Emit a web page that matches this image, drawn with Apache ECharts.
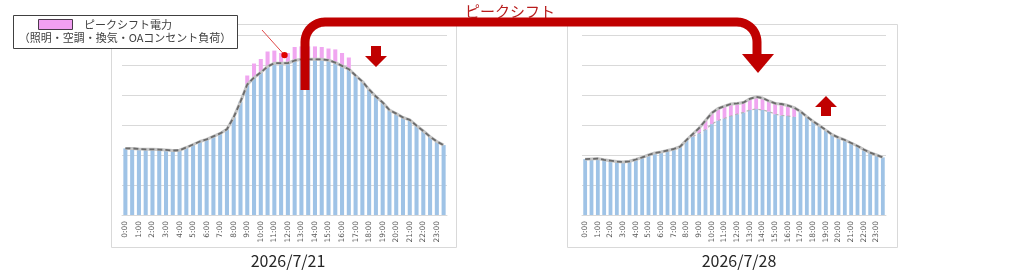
<!DOCTYPE html>
<html>
<head>
<meta charset="utf-8">
<script src="https://cdn.jsdelivr.net/npm/echarts@6/dist/echarts.min.js"></script>
<style>
  html, body { margin: 0; padding: 0; background: #fff; }
  #chart { width: 1024px; height: 278px; }
</style>
</head>
<body>
<div id="chart"></div>
<script>
// 30分ごとの時刻（ラベルは毎時のみ表示）
const slots = [
  '0:00','0:30','1:00','1:30','2:00','2:30','3:00','3:30','4:00','4:30','5:00','5:30',
  '6:00','6:30','7:00','7:30','8:00','8:30','9:00','9:30','10:00','10:30','11:00','11:30',
  '12:00','12:30','13:00','13:30','14:00','14:30','15:00','15:30','16:00','16:30','17:00','17:30',
  '18:00','18:30','19:00','19:30','20:00','20:30','21:00','21:30','22:00','22:30','23:00','23:30'
];

// 2026/7/21 シフト後の負荷（青）とシフト前のピーク（ピンク上端）
const leftBase = [222,222,220,219,219,218,217,215,216,225,235,245,252,262,272,286,326,378,
  435,458,475,495,506,506,506,515,519,519,519,519,516,508,497,486,
  465,445,418,395,375,350,338,325,317,298,280,261,245,233];
const leftPeak = [null,null,null,null,null,null,null,null,null,null,null,null,null,null,null,null,null,null,
  465,505,520,545,548,540,540,560,562,562,562,560,555,552,540,525,
  null,null,null,null,null,null,null,null,null,null,null,null,null,null];

// 2026/7/28 元の負荷（青）とシフト後の合計（線）
const rightBase = [186,187,188,184,181,178,177,179,185,192,200,207,210,215,220,228,250,
  262,272,285,303,315,322,330,336,342,350,353,350,345,336,332,330,327,
  345,328,312,298,283,268,258,250,240,230,218,208,200,192];
const rightTotal = [186,187,188,184,181,178,177,179,185,192,200,207,210,215,220,228,250,
  270,290,315,340,355,363,370,372,375,387,394,390,380,372,370,365,358,
  345,328,312,298,283,268,258,250,240,230,218,208,200,192];

const dates = ['2026/7/21', '2026/7/28'];
const legendTitle = 'ピークシフト電力';
const legendSub = '（照明・空調・換気・OAコンセント負荷）';
const arrowTitle = 'ピークシフト';

const BLUE = '#9fc3e6';
const PINK = '#f0a6f0';
const RED = '#c00000';
const FONT = '"Noto Sans CJK JP", "Noto Sans", sans-serif';

const leftShift = leftPeak.map((v, i) => v == null ? '-' : v - leftBase[i]);
const rightShift = rightTotal.map((v, i) => v - rightBase[i] > 0 ? v - rightBase[i] : '-');
const rightOld = rightBase.map((v, i) => rightTotal[i] - v > 0 ? v : '-');

const chart = echarts.init(document.getElementById('chart'));

const xAxisBase = (gi) => ({
  type: 'category',
  gridIndex: gi,
  data: slots,
  axisTick: { show: false },
  axisLine: { lineStyle: { color: '#d9d9d9' } },
  axisLabel: {
    interval: 1,
    rotate: 90,
    margin: 6,
    fontSize: 7.5,
    color: '#595959',
    fontFamily: 'DejaVu Sans'
  }
});
const yAxisBase = (gi) => ({
  type: 'value',
  gridIndex: gi,
  min: 0,
  max: 600,
  interval: 100,
  axisLabel: { show: false },
  axisLine: { show: false },
  axisTick: { show: false },
  splitLine: { lineStyle: { color: '#d9d9d9', width: 1 } }
});

const lineLayers = (gi, data) => ([
  {
    type: 'line', xAxisIndex: gi, yAxisIndex: gi, data: data, symbol: 'none', z: 5,
    lineStyle: { color: '#c4c4c4', width: 3 }
  },
  {
    type: 'line', xAxisIndex: gi, yAxisIndex: gi, data: data, symbol: 'none', z: 6,
    lineStyle: { color: '#6b6b6b', width: 1.8, type: [5, 3] }
  }
]);

chart.setOption({
  animation: false,
  grid: [
    { left: 122, right: 577, top: 35, bottom: 63 },
    { left: 582, right: 138, top: 35, bottom: 63 }
  ],
  xAxis: [xAxisBase(0), xAxisBase(1)],
  yAxis: [yAxisBase(0), yAxisBase(1)],
  series: [
    {
      type: 'bar', xAxisIndex: 0, yAxisIndex: 0, stack: 'L', data: leftBase,
      barCategoryGap: '40%', itemStyle: { color: BLUE }
    },
    {
      type: 'bar', xAxisIndex: 0, yAxisIndex: 0, stack: 'L', data: leftShift,
      itemStyle: { color: PINK }
    },
    ...lineLayers(0, leftBase),
    {
      type: 'bar', xAxisIndex: 1, yAxisIndex: 1, stack: 'R', data: rightBase,
      barCategoryGap: '40%', itemStyle: { color: BLUE }
    },
    {
      type: 'bar', xAxisIndex: 1, yAxisIndex: 1, stack: 'R', data: rightShift,
      itemStyle: { color: PINK }
    },
    {
      type: 'line', xAxisIndex: 1, yAxisIndex: 1, data: rightOld, symbol: 'none', z: 4,
      lineStyle: { color: '#b5b5b5', width: 1.2, type: [3, 3] }
    },
    ...lineLayers(1, rightTotal)
  ]
});

// 注記（吹き出しの点は凡例からの引き出し線の先）
const p23 = chart.convertToPixel({ gridIndex: 0 }, [23, 533]);
const p24 = chart.convertToPixel({ gridIndex: 0 }, [24, 533]);
const dot = [(p23[0] + p24[0]) / 2, p23[1]];

// 大きな矢印の道筋（角は丸める）
const arcPts = (cx, cy, r, a0, a1) => {
  const pts = [];
  for (let k = 0; k <= 12; k++) {
    const a = a0 + (a1 - a0) * k / 12;
    pts.push([cx + r * Math.cos(a), cy + r * Math.sin(a)]);
  }
  return pts;
};
const bigArrow = [[305, 90]]
  .concat(arcPts(325, 42, 20, Math.PI, Math.PI * 1.5))
  .concat(arcPts(737, 42, 20, Math.PI * 1.5, Math.PI * 2))
  .concat([[757, 56]]);

chart.setOption({
  graphic: [
    // パネル枠
    { type: 'rect', shape: { x: 111.5, y: 24.5, width: 345, height: 223 },
      style: { fill: null, stroke: '#d9d9d9', lineWidth: 1 }, z: 1 },
    { type: 'rect', shape: { x: 567.5, y: 24.5, width: 330, height: 223 },
      style: { fill: null, stroke: '#d9d9d9', lineWidth: 1 }, z: 1 },
    // 日付
    { type: 'text', x: 288, y: 261, z: 10,
      style: { text: dates[0], fontSize: 16, fill: '#262626', fontFamily: FONT,
        align: 'center', verticalAlign: 'middle' } },
    { type: 'text', x: 739, y: 261, z: 10,
      style: { text: dates[1], fontSize: 16, fill: '#262626', fontFamily: FONT,
        align: 'center', verticalAlign: 'middle' } },
    // 凡例
    { type: 'rect', shape: { x: 13.5, y: 15.5, width: 224, height: 33 },
      style: { fill: '#fff', stroke: '#404040', lineWidth: 1 }, z: 100 },
    { type: 'rect', shape: { x: 38.5, y: 19.5, width: 34, height: 10 },
      style: { fill: '#f29ff2', stroke: '#4a3a4a', lineWidth: 1 }, z: 101 },
    { type: 'text', x: 84, y: 24.5, z: 101,
      style: { text: legendTitle, fontSize: 11, fill: '#404040', fontFamily: FONT,
        verticalAlign: 'middle' } },
    { type: 'text', x: 125, y: 38, z: 101,
      style: { text: legendSub, fontSize: 11, fill: '#404040', fontFamily: FONT,
        align: 'center', verticalAlign: 'middle' } },
    // 引き出し線と点
    { type: 'line', shape: { x1: 262, y1: 30, x2: dot[0], y2: dot[1] },
      style: { stroke: '#e04848', lineWidth: 1 }, z: 99 },
    { type: 'circle', shape: { cx: dot[0], cy: dot[1], r: 3.2 },
      style: { fill: '#e00000' }, z: 99 },
    // 大きな矢印
    { type: 'polyline', z: 100,
      shape: { points: bigArrow },
      style: { fill: null, stroke: RED, lineWidth: 9, lineJoin: 'round' } },
    { type: 'polygon', z: 100,
      shape: { points: [[742, 54], [774, 54], [758, 73]] },
      style: { fill: RED } },
    { type: 'text', x: 510, y: 11, z: 100,
      style: { text: arrowTitle, fontSize: 15, fill: '#b81c1c', fontFamily: FONT,
        align: 'center', verticalAlign: 'middle' } },
    // 下向き矢印（左）
    { type: 'polygon', z: 100,
      shape: { points: [[371, 46], [381, 46], [381, 56], [387, 56], [376, 67], [365, 56], [371, 56]] },
      style: { fill: RED } },
    // 上向き矢印（右）
    { type: 'polygon', z: 100,
      shape: { points: [[821, 116], [831, 116], [831, 107], [837, 107], [826, 96], [815, 107], [821, 107]] },
      style: { fill: RED } }
  ]
});
</script>
</body>
</html>
